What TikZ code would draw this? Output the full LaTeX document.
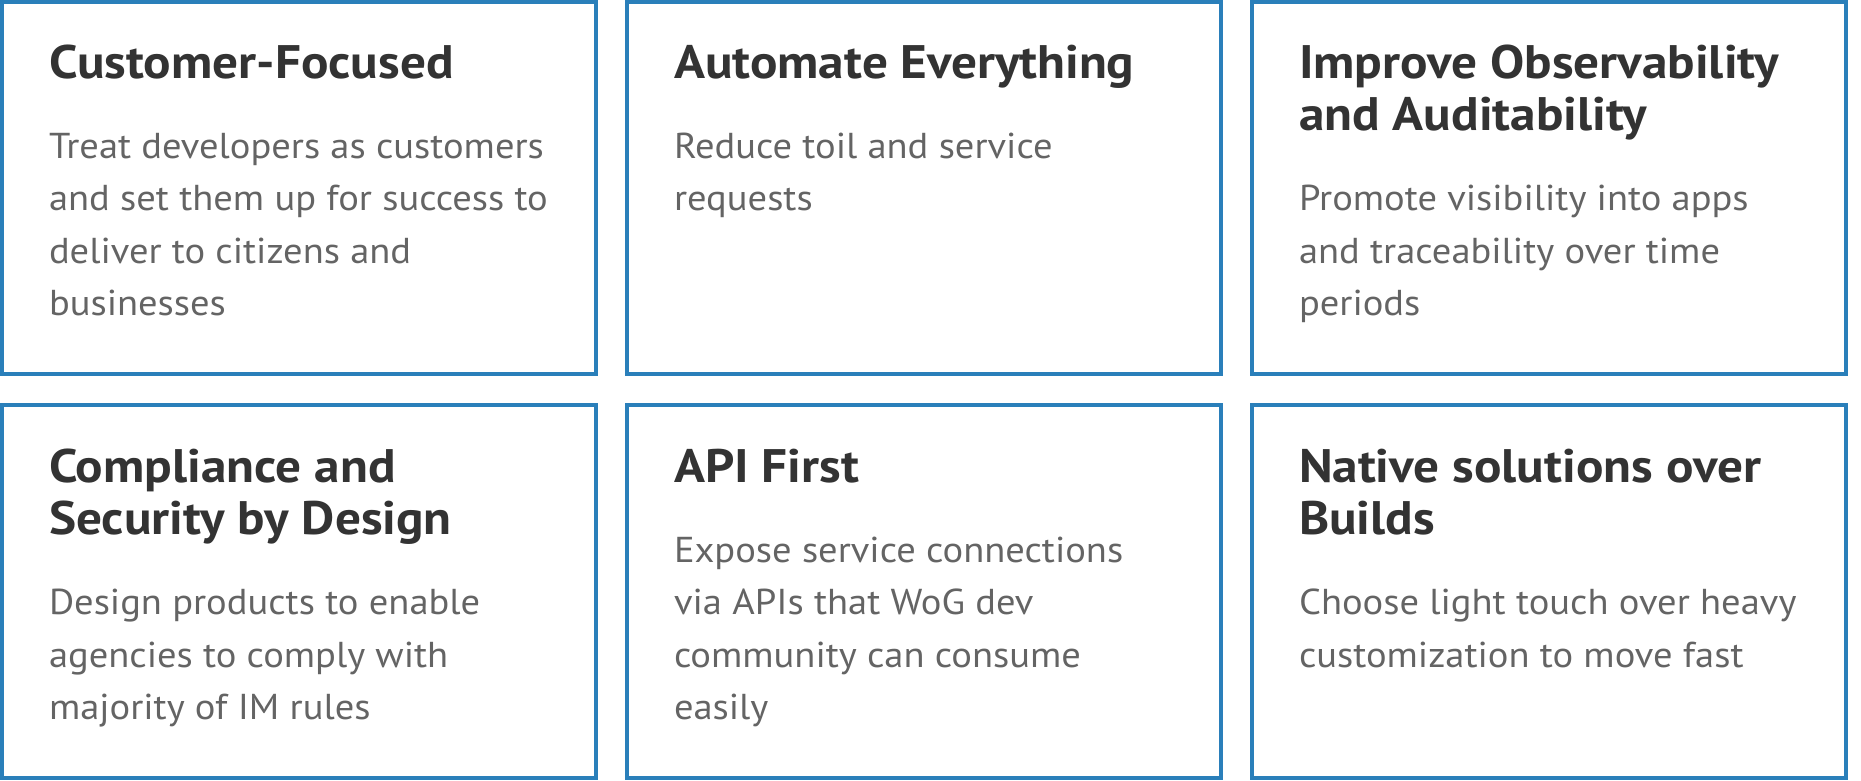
\documentclass[tikz,border=0pt]{standalone}
\usepackage{fontspec}
\setmainfont{PT Sans}
\newfontfamily\cardtitlefont{PT Sans}[FakeStretch=1.09]
\newfontfamily\cardbodyfont{PT Sans}[FakeStretch=1.07]
\definecolor{boxblue}{HTML}{2A7FBA}
\definecolor{titlegray}{HTML}{333333}
\definecolor{bodygray}{HTML}{646464}
\tikzset{
  card/.style={draw=boxblue, line width=4pt, minimum width=594pt, minimum height=372.5pt, inner sep=0pt, outer sep=0pt},
  cardtitle/.style={anchor=base west, inner sep=0pt, outer sep=0pt, align=left, text=titlegray, font=\cardtitlefont\fontsize{47}{52.5}\selectfont\bfseries},
  cardbody/.style={anchor=base west, inner sep=0pt, outer sep=0pt, align=left, text=bodygray, font=\cardbodyfont\fontsize{36}{52.5}\selectfont}
}
\begin{document}
\begin{tikzpicture}[x=1pt,y=-1pt]
\useasboundingbox (0,0) rectangle (1861,780);
% cards
\node[card] (c1) at (299,188) {};
\node[card] (c2) at (924,188) {};
\node[card] (c3) at (1549,188) {};
\node[card] (c4) at (299,591.5) {};
\node[card] (c5) at (924,591.5) {};
\node[card] (c6) at (1549,591.5) {};
% titles (anchor = baseline of last line)
\node[cardtitle] (t1) at (49,78) {Customer-Focused};
\node[cardtitle] (t2) at (674,78) {Automate Everything};
\node[cardtitle] (t3) at (1299,130.5) {Improve Observability\\and Auditability};
\node[cardtitle] (t4) at (49,534.5) {Compliance and\\Security by Design};
\node[cardtitle] (t5) at (674,482) {API First};
\node[cardtitle] (t6) at (1299,534.5) {Native solutions over\\Builds};
% bodies (anchor = baseline of last line)
\node[cardbody] (d1) at (49,315.5) {Treat developers as customers\\and set them up for success to\\deliver to citizens and\\businesses};
\node[cardbody] (d2) at (674,210.5) {Reduce toil and service\\requests};
\node[cardbody] (d3) at (1299,315.5) {Promote visibility into apps\\and traceability over time\\periods};
\node[cardbody] (d4) at (49,719.5) {Design products to enable\\agencies to comply with\\majority of IM rules};
\node[cardbody] (d5) at (674,719.5) {Expose service connections\\via APIs that WoG dev\\community can consume\\easily};
\node[cardbody] (d6) at (1299,667) {Choose light touch over heavy\\customization to move fast};
\end{tikzpicture}
\end{document}
